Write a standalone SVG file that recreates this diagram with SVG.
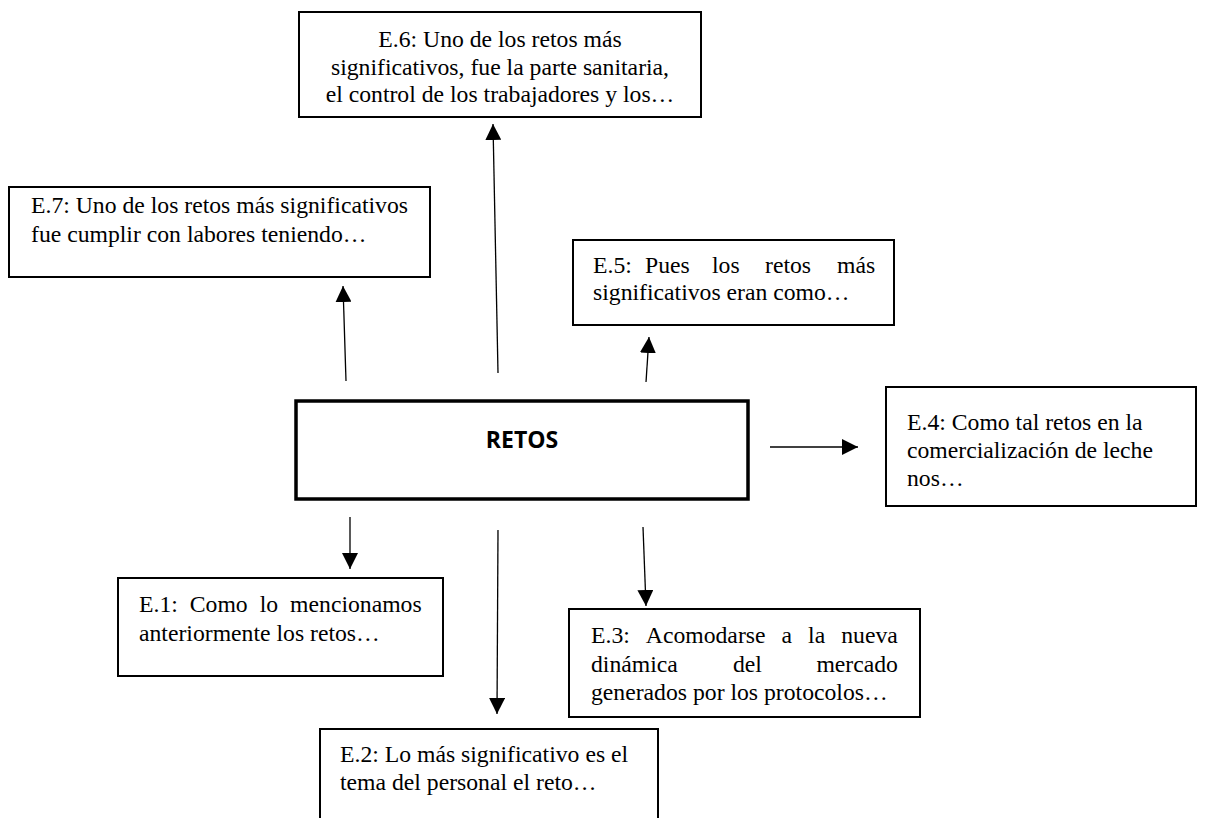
<svg xmlns="http://www.w3.org/2000/svg" width="1209" height="818" viewBox="0 0 1209 818">
<style>
.box{fill:#fff;stroke:#000;stroke-width:2}
.main{fill:#fff;stroke:#000;stroke-width:3.5}
.t{font-family:"Liberation Serif","Times New Roman",serif;font-size:23.7px;fill:#000}
.c{text-anchor:middle}
.b{font-family:"Open Sans","Liberation Sans",sans-serif;font-weight:bold;font-size:23px;fill:#000;text-anchor:middle}
.con line{stroke:#000;stroke-width:1.3;marker-end:url(#ah)}
</style>
<defs>
<marker id="ah" markerUnits="userSpaceOnUse" markerWidth="16" markerHeight="16" refX="16" refY="8" orient="auto">
<path d="M0,0 L16,8 L0,16 z" fill="#000"/>
</marker>
</defs>
<rect width="1209" height="818" fill="#fff"/>
<g class="con">
<line x1="498" y1="373" x2="493" y2="124"/>
<line x1="346" y1="381" x2="343" y2="286"/>
<line x1="646" y1="382" x2="649" y2="337"/>
<line x1="770" y1="447" x2="858" y2="447"/>
<line x1="350" y1="517" x2="350" y2="569"/>
<line x1="498" y1="530" x2="497" y2="714"/>
<line x1="643" y1="527" x2="646" y2="606"/>
</g>
<g id="retos">
<rect class="main" x="296" y="401" width="452" height="98"/>
<text class="b" x="522" y="448">RETOS</text>
</g>
<g id="e6">
<rect class="box" x="299" y="12" width="402" height="105"/>
<text class="t c" x="500" y="47">E.6: Uno de los retos más</text>
<text class="t c" x="500" y="74.5">significativos, fue la parte sanitaria,</text>
<text class="t c" x="500" y="102">el control de los trabajadores y los…</text>
</g>
<g id="e7">
<rect class="box" x="9" y="187" width="421" height="90"/>
<text class="t" x="31" y="213">E.7: Uno de los retos más significativos</text>
<text class="t" x="31" y="242">fue cumplir con labores teniendo…</text>
</g>
<g id="e5">
<rect class="box" x="573" y="240" width="321" height="85"/>
<text class="t" y="273"><tspan x="593">E.5:</tspan><tspan x="645">Pues</tspan><tspan x="712">los</tspan><tspan x="765">retos</tspan><tspan x="837">más</tspan></text>
<text class="t" x="593" y="300">significativos eran como…</text>
</g>
<g id="e4">
<rect class="box" x="886" y="387" width="310" height="119"/>
<text class="t" x="907" y="430">E.4: Como tal retos en la</text>
<text class="t" x="907" y="458">comercialización de leche</text>
<text class="t" x="907" y="486">nos…</text>
</g>
<g id="e1">
<rect class="box" x="118" y="578" width="325" height="98"/>
<text class="t" y="612"><tspan x="139">E.1:</tspan><tspan x="189.8">Como</tspan><tspan x="259.7">lo</tspan><tspan x="290.1">mencionamos</tspan></text>
<text class="t" x="139" y="641">anteriormente los retos…</text>
</g>
<g id="e3">
<rect class="box" x="569" y="609" width="351" height="108"/>
<text class="t" y="643"><tspan x="591">E.3:</tspan><tspan x="645.8">Acomodarse</tspan><tspan x="781.6">a</tspan><tspan x="808.1">la</tspan><tspan x="841.2">nueva</tspan></text>
<text class="t" y="672"><tspan x="591">dinámica</tspan><tspan x="733">del</tspan><tspan x="816.4">mercado</tspan></text>
<text class="t" x="591" y="700">generados por los protocolos…</text>
</g>
<g id="e2">
<rect class="box" x="320" y="729" width="338" height="110"/>
<text class="t" x="340" y="762">E.2: Lo más significativo es el</text>
<text class="t" x="340" y="790">tema del personal el reto…</text>
</g>
</svg>
